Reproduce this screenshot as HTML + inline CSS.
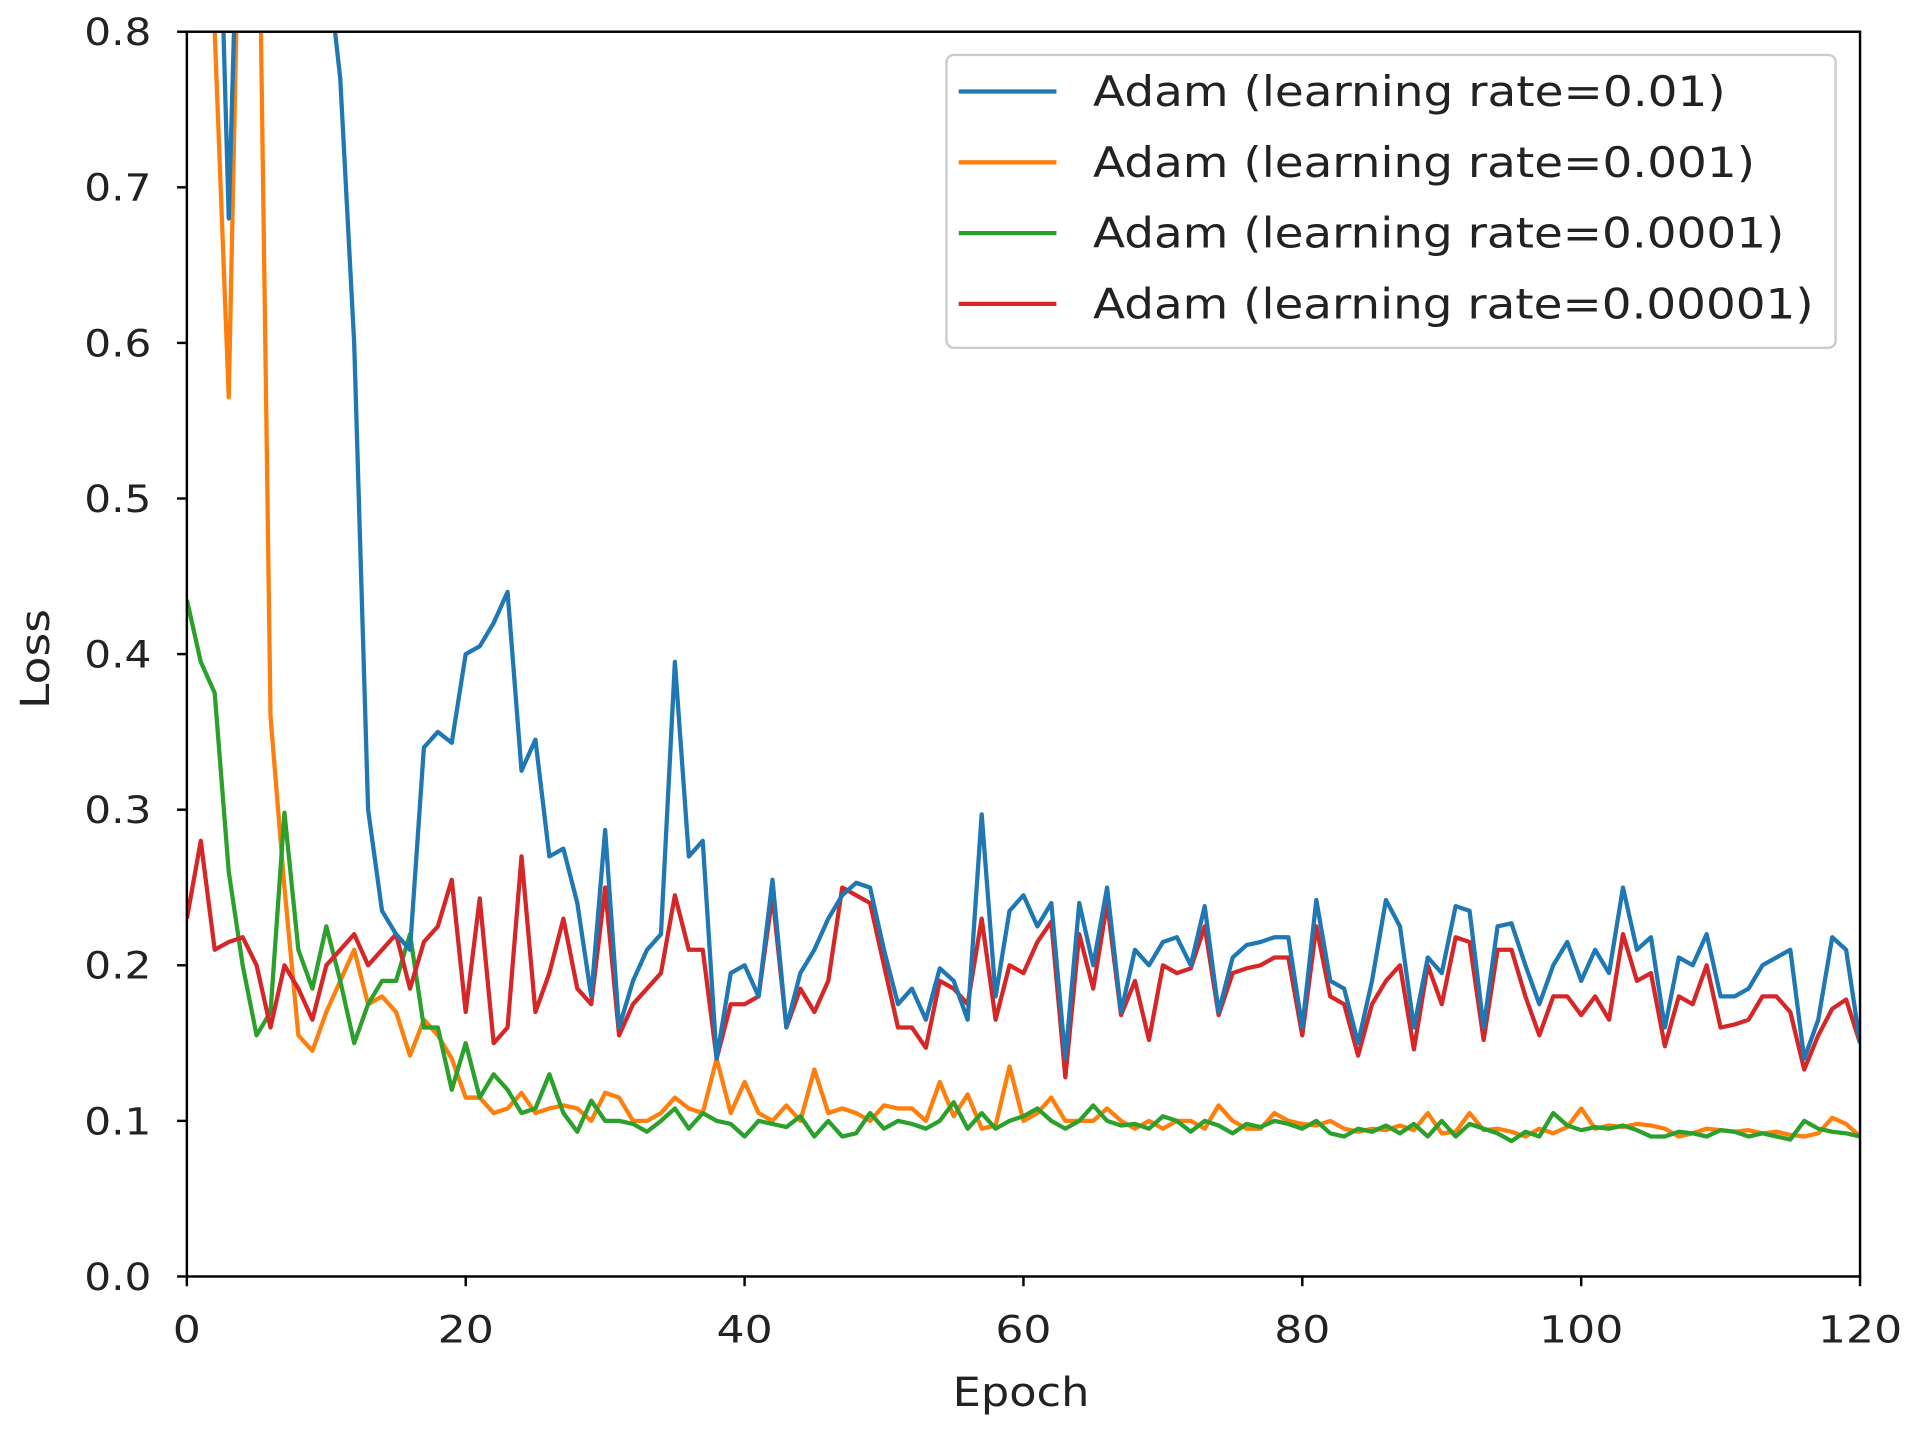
<!DOCTYPE html>
<html><head><meta charset="utf-8"><style>html,body{margin:0;padding:0;background:#fff}svg{display:block}</style></head>
<body>
<svg id="s" width="1915" height="1440" viewBox="0 0 1568 1180" preserveAspectRatio="none" xmlns="http://www.w3.org/2000/svg" font-family="'DejaVu Sans','Liberation Sans',sans-serif">
<defs><clipPath id="c"><rect x="153" y="26" width="1370" height="1020"/></clipPath></defs>
<rect width="1568" height="1180" fill="#fff"/>
<g id="lines" clip-path="url(#c)" fill="none" stroke-width="3.5" stroke-linejoin="round"></g>
<rect x="153" y="26" width="1370" height="1020" fill="none" stroke="#000" stroke-width="2"/>
<g id="ticks" font-size="31" fill="#222"></g>
<text x="836" y="1152" font-size="33" text-anchor="middle" fill="#222" textLength="112" lengthAdjust="spacingAndGlyphs">Epoch</text>
<text transform="translate(40,540) rotate(-90)" font-size="33" text-anchor="middle" fill="#222" textLength="82" lengthAdjust="spacingAndGlyphs">Loss</text>
<rect x="775" y="45" width="728" height="240" rx="6" fill="#fff" fill-opacity="0.9" stroke="#ccc" stroke-width="2"/>
<g font-size="34" fill="#222">
<line x1="785" y1="75" x2="865" y2="75" stroke="#1f77b4" stroke-width="3.5"/><text x="895" y="87" textLength="518" lengthAdjust="spacingAndGlyphs">Adam (learning rate=0.01)</text>
<line x1="785" y1="133" x2="865" y2="133" stroke="#ff7f0e" stroke-width="3.5"/><text x="895" y="145" textLength="542" lengthAdjust="spacingAndGlyphs">Adam (learning rate=0.001)</text>
<line x1="785" y1="191" x2="865" y2="191" stroke="#2ca02c" stroke-width="3.5"/><text x="895" y="203" textLength="566" lengthAdjust="spacingAndGlyphs">Adam (learning rate=0.0001)</text>
<line x1="785" y1="249" x2="865" y2="249" stroke="#d62728" stroke-width="3.5"/><text x="895" y="261" textLength="590" lengthAdjust="spacingAndGlyphs">Adam (learning rate=0.00001)</text>
</g>
</svg>
<script>
var X=function(e){return 153+e*1370/120},Y=function(v){return 1046-v*1275};
var blue=[1,1,1,0.68,1,1,1,1,1,1,0.85,0.77,0.6,0.3,0.235,0.22,0.21,0.34,0.35,0.343,0.4,0.405,0.42,0.44,0.325,0.345,0.27,0.275,0.24,0.18,0.287,0.16,0.19,0.21,0.22,0.395,0.27,0.28,0.14,0.195,0.2,0.18,0.255,0.16,0.195,0.21,0.23,0.245,0.253,0.25,0.21,0.175,0.185,0.165,0.198,0.19,0.165,0.297,0.18,0.235,0.245,0.225,0.24,0.14,0.24,0.2,0.25,0.17,0.21,0.2,0.215,0.218,0.2,0.238,0.17,0.205,0.213,0.215,0.218,0.218,0.16,0.242,0.19,0.185,0.15,0.19,0.242,0.225,0.16,0.205,0.195,0.238,0.235,0.16,0.225,0.227,0.2,0.175,0.2,0.215,0.19,0.21,0.195,0.25,0.21,0.218,0.16,0.205,0.2,0.22,0.18,0.18,0.185,0.2,0.205,0.21,0.14,0.165,0.218,0.21,0.15];
var red=[0.23,0.28,0.21,0.215,0.218,0.2,0.16,0.2,0.185,0.165,0.2,0.21,0.22,0.2,0.21,0.22,0.185,0.215,0.225,0.255,0.17,0.243,0.15,0.16,0.27,0.17,0.195,0.23,0.185,0.175,0.25,0.155,0.175,0.185,0.195,0.245,0.21,0.21,0.14,0.175,0.175,0.18,0.245,0.16,0.185,0.17,0.19,0.25,0.245,0.24,0.2,0.16,0.16,0.147,0.19,0.185,0.175,0.23,0.165,0.2,0.195,0.215,0.228,0.128,0.22,0.185,0.24,0.168,0.19,0.152,0.2,0.195,0.198,0.225,0.168,0.195,0.198,0.2,0.205,0.205,0.155,0.225,0.18,0.175,0.142,0.175,0.19,0.2,0.146,0.2,0.175,0.218,0.215,0.152,0.21,0.21,0.18,0.155,0.18,0.18,0.168,0.18,0.165,0.22,0.19,0.195,0.148,0.18,0.175,0.2,0.16,0.162,0.165,0.18,0.18,0.17,0.133,0.155,0.172,0.178,0.15];
var orange=[0.8,1,0.8,0.565,1,1,0.36,0.25,0.155,0.145,0.17,0.19,0.21,0.175,0.18,0.17,0.142,0.165,0.155,0.14,0.115,0.115,0.105,0.108,0.118,0.105,0.108,0.11,0.108,0.1,0.118,0.115,0.1,0.1,0.105,0.115,0.108,0.105,0.14,0.105,0.125,0.105,0.1,0.11,0.1,0.133,0.105,0.108,0.105,0.1,0.11,0.108,0.108,0.1,0.125,0.103,0.117,0.095,0.097,0.135,0.1,0.105,0.115,0.1,0.1,0.1,0.108,0.1,0.095,0.1,0.095,0.1,0.1,0.095,0.11,0.1,0.095,0.095,0.105,0.1,0.098,0.097,0.1,0.095,0.093,0.095,0.094,0.097,0.094,0.105,0.092,0.093,0.105,0.094,0.095,0.093,0.09,0.095,0.092,0.096,0.108,0.095,0.097,0.096,0.098,0.097,0.095,0.09,0.092,0.095,0.094,0.093,0.094,0.092,0.093,0.091,0.09,0.092,0.102,0.098,0.09];
var green=[0.435,0.395,0.375,0.26,0.2,0.155,0.17,0.298,0.21,0.185,0.225,0.19,0.15,0.175,0.19,0.19,0.22,0.16,0.16,0.12,0.15,0.115,0.13,0.12,0.105,0.108,0.13,0.105,0.093,0.113,0.1,0.1,0.098,0.093,0.1,0.108,0.095,0.105,0.1,0.098,0.09,0.1,0.098,0.096,0.103,0.09,0.1,0.09,0.092,0.105,0.095,0.1,0.098,0.095,0.1,0.112,0.095,0.105,0.095,0.1,0.103,0.108,0.1,0.095,0.1,0.11,0.1,0.097,0.098,0.095,0.103,0.1,0.093,0.1,0.097,0.092,0.098,0.096,0.1,0.098,0.095,0.1,0.092,0.09,0.095,0.093,0.097,0.092,0.098,0.09,0.1,0.09,0.098,0.095,0.092,0.087,0.093,0.09,0.105,0.097,0.094,0.096,0.095,0.097,0.094,0.09,0.09,0.093,0.092,0.09,0.094,0.093,0.09,0.092,0.09,0.088,0.1,0.095,0.093,0.092,0.09];
var g=document.getElementById('lines'),ns='http://www.w3.org/2000/svg';
[[orange,'#ff7f0e'],[green,'#2ca02c'],[red,'#d62728'],[blue,'#1f77b4']].forEach(function(p){
var d=p[0].map(function(v,i){return (i?'L':'M')+X(i).toFixed(1)+' '+Y(v).toFixed(1)}).join('');
var e=document.createElementNS(ns,'path');e.setAttribute('d',d);e.setAttribute('stroke',p[1]);g.appendChild(e);});
var t=document.getElementById('ticks'),h='';
for(var i=0;i<=8;i++){var y=Y(i/10);h+='<line x1="145" y1="'+y+'" x2="153" y2="'+y+'" stroke="#000" stroke-width="2"/><text x="124" y="'+(y+11)+'" text-anchor="end" textLength="55" lengthAdjust="spacingAndGlyphs">'+(i/10).toFixed(1)+'</text>';}
for(var e=0;e<=120;e+=20){var x=X(e),s=String(e);h+='<line x1="'+x+'" y1="1046" x2="'+x+'" y2="1054" stroke="#000" stroke-width="2"/><text x="'+x+'" y="1100" text-anchor="middle" textLength="'+(s.length*23)+'" lengthAdjust="spacingAndGlyphs">'+s+'</text>';}
t.innerHTML=h;
</script>
</body></html>
